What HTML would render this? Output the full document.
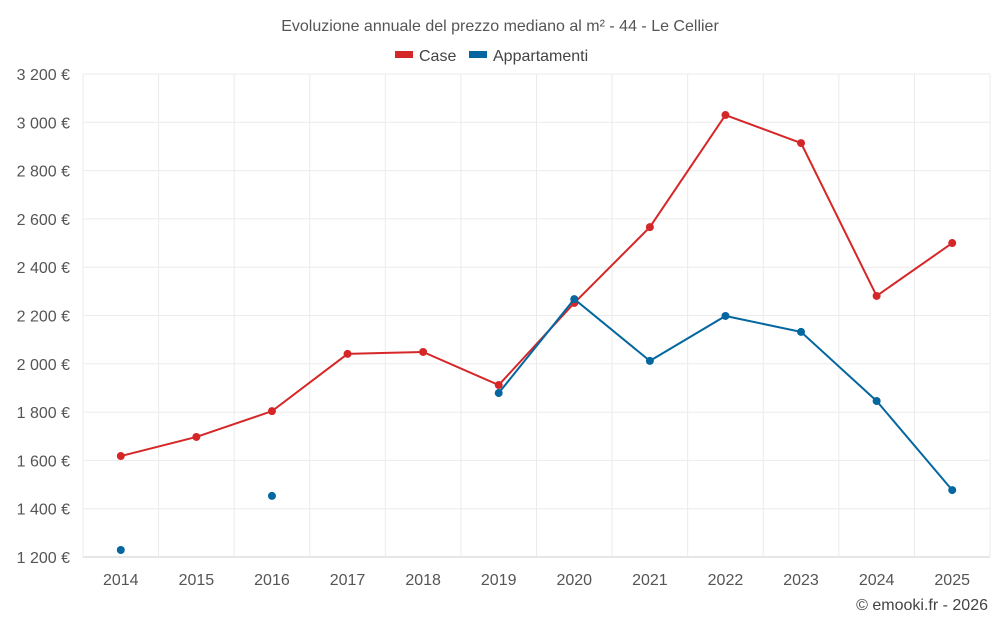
<!DOCTYPE html>
<html><head><meta charset="utf-8"><style>
body{margin:0;background:#fff;font-family:"Liberation Sans",sans-serif;}
svg text{font-family:"Liberation Sans",sans-serif;}
</style></head><body>
<svg id="chart" width="1000" height="625">
<text x="500" y="31" text-anchor="middle" font-size="16" fill="#555">Evoluzione annuale del prezzo mediano al m² - 44 - Le Cellier</text>
<g>
<g><rect x="395" y="51" width="18" height="7" fill="#d62728"/><text x="419" y="61" font-size="16" fill="#444">Case</text></g>
<g><rect x="469" y="51" width="18" height="7" fill="#04679f"/><text x="493" y="61" font-size="16" fill="#444">Appartamenti</text></g>
</g>
<g id="grid"></g><g id="axes"></g><g id="series"></g>
<text x="988" y="610" text-anchor="end" font-size="16" fill="#444">© emooki.fr - 2026</text>
</svg>
<script>
const years=["2014","2015","2016","2017","2018","2019","2020","2021","2022","2023","2024","2025"];
const caseValues=[1618,1697,1804,2041,2049,1912,2252,2566,3030,2914,2281,2500];
const apptValues=[1229,null,1453,null,null,1879,2268,2012,2198,2132,1846,1477];
const yTicks=[1200,1400,1600,1800,2000,2200,2400,2600,2800,3000,3200];
const NS="http://www.w3.org/2000/svg";
const L=83,R=990,T=74,B=557,yMin=1200,yMax=3200;
const bw=(R-L)/years.length;
const x=i=>L+bw*(i+0.5);
const y=v=>B-(v-yMin)/(yMax-yMin)*(B-T);
function mk(tag,attrs,parent){const e=document.createElementNS(NS,tag);for(const k in attrs)e.setAttribute(k,attrs[k]);parent.appendChild(e);return e;}
const grid=document.getElementById('grid'),axes=document.getElementById('axes'),ser=document.getElementById('series');
const fmt=v=>String(v).replace(/\B(?=(\d{3})+(?!\d))/g,' ')+' €';
yTicks.forEach(t=>{
 const l=mk('line',{x1:L,x2:R,y1:y(t),y2:y(t),stroke:t===yMin?'#ccc':'#ebebeb','stroke-width':1},grid);
 
 
 const tx=mk('text',{x:70,y:y(t)+6,'text-anchor':'end','font-size':16,fill:'#555'},axes);
 tx.textContent=fmt(t);
 
 
});
for(let i=0;i<=years.length;i++){
 const l=mk('line',{x1:L+bw*i,x2:L+bw*i,y1:T,y2:B,stroke:'#ebebeb','stroke-width':1},grid);
 
 
}
years.forEach((yr,i)=>{
 const tx=mk('text',{x:x(i),y:585,'text-anchor':'middle','font-size':16,fill:'#555'},axes);
 tx.textContent=yr;
 
 
});
function draw(vals,color,name){
 let seg=[];const segs=[];
 vals.forEach((v,i)=>{if(v==null){if(seg.length)segs.push(seg);seg=[];}else seg.push([x(i),y(v)]);});
 if(seg.length)segs.push(seg);
 segs.forEach(s=>{if(s.length>1){const p=mk('polyline',{points:s.map(q=>q.join(',')).join(' '),fill:'none',stroke:color,'stroke-width':2},ser);
  
  }});
 vals.forEach((v,i)=>{if(v==null)return;const c=mk('circle',{cx:x(i),cy:y(v),r:4,fill:color},ser);
  
  });
}
draw(caseValues,'#d62728','case');
draw(apptValues,'#04679f','appartamenti');
</script>
</body></html>
